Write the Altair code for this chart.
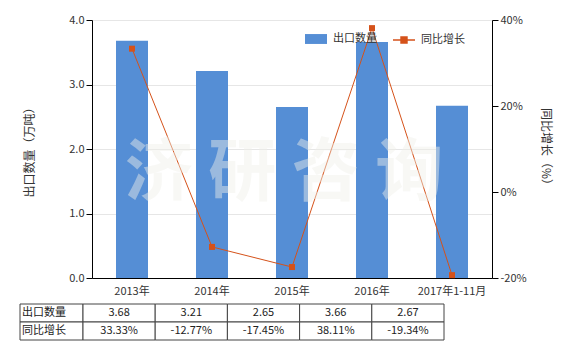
import altair as alt
import pandas as pd

years = ["2013年", "2014年", "2015年", "2016年", "2017年1-11月"]
qty = [3.68, 3.21, 2.65, 3.66, 2.67]
growth = [33.33, -12.77, -17.45, 38.11, -19.34]
qty_ticks = [0, 1, 2, 3, 4]
growth_ticks = [-20, 0, 20, 40]
row_names = ["出口数量", "同比增长"]
watermark = "济 研 咨 询"

FONT = "Noto Sans CJK SC"
BAR = "#558ED5"
LINE = "#D5521A"
TXT = "#333333"

df = pd.DataFrame({"year": years, "qty": qty, "growth": growth,
                   "s1": row_names[0], "s2": row_names[1]})

x = alt.X("year:N", sort=years, title=None,
          scale=alt.Scale(paddingInner=0.6, paddingOuter=0.3),
          axis=alt.Axis(labelAngle=0, ticks=False, domainColor="#000000",
                        labelPadding=7, labelFontSize=11, labelColor=TXT))

bars = alt.Chart(df).mark_bar().encode(
    x=x,
    y=alt.Y("qty:Q", title="出口数量（万吨）",
            scale=alt.Scale(domain=[0, 4], nice=False),
            axis=alt.Axis(values=qty_ticks, format=".1f", grid=True, gridColor="#e6e6e6",
                          tickSize=6, tickColor="#000000", domainColor="#000000",
                          labelPadding=2, titlePadding=32)),
    fill=alt.Fill("s1:N", scale=alt.Scale(domain=[row_names[0]], range=[BAR]),
                  legend=alt.Legend(title=None, orient="none", legendX=213, legendY=8,
                                    symbolType="M-1,-0.45L1,-0.45L1,0.45L-1,0.45Z",
                                    symbolSize=484, symbolStrokeWidth=0,
                                    labelFontSize=11, labelOffset=6, padding=0,
                                    labelColor=TXT)),
)

gaxis = alt.Axis(orient="right", values=growth_ticks, labelExpr="datum.value + '%'",
                 grid=False, tickSize=6, tickColor="#000000", domainColor="#000000",
                 labelPadding=2, titlePadding=12, titleAngle=90)
gscale = alt.Scale(domain=[-20, 40], nice=False)

line = alt.Chart(df).mark_line(strokeWidth=1).encode(
    x=x,
    y=alt.Y("growth:Q", title="同比增长（%）", scale=gscale, axis=gaxis),
    stroke=alt.Stroke("s2:N", scale=alt.Scale(domain=[row_names[1]], range=[LINE]),
                      legend=alt.Legend(title=None, orient="none", legendX=300, legendY=8,
                                        symbolType="M-1,0L1,0M-0.27,-0.27L0.27,-0.27L0.27,0.27L-0.27,0.27Z",
                                        symbolSize=484, symbolStrokeWidth=1.5,
                                        symbolFillColor=LINE,
                                        labelFontSize=11, labelOffset=5, padding=0,
                                        labelColor=TXT)),
)

pts = alt.Chart(df).mark_point(shape="square", filled=True, size=36, opacity=1, color=LINE).encode(
    x=x,
    y=alt.Y("growth:Q", title="同比增长（%）", scale=gscale, axis=gaxis),
)

wm = alt.Chart(pd.DataFrame({"t": [watermark]})).mark_text(
    fontSize=68, fontWeight="bold", color="#f0f0ea", opacity=0.45, font=FONT
).encode(text="t:N", x=alt.value(192), y=alt.value(155))

main = alt.layer(bars, alt.layer(line, pts), wm).resolve_scale(y="independent").properties(
    width=400, height=258)

# table
lab_df = pd.DataFrame({"c": ["label"] * 2, "r": row_names, "t": row_names})
val_rows = []
for yv, q, g in zip(years, qty, growth):
    val_rows.append({"c": yv, "r": row_names[0], "t": f"{q:.2f}"})
    val_rows.append({"c": yv, "r": row_names[1], "t": f"{g:.2f}%"})
val_df = pd.DataFrame(val_rows)

ty = alt.Y("r:N", sort=row_names, axis=None, title=None,
           scale=alt.Scale(paddingInner=0, paddingOuter=0))
lab_scale = alt.Scale(range=[-72, -9], paddingInner=0, paddingOuter=0)
val_scale = alt.Scale(range=[-9, 352], paddingInner=0, paddingOuter=0)

lab_base = alt.Chart(lab_df).encode(y=ty)
lab_layer = alt.layer(
    lab_base.mark_rect(fill="white", stroke="#444444", strokeWidth=1).encode(
        x=alt.X("c:N", axis=None, scale=lab_scale, title=None)),
    lab_base.mark_text(align="left", dx=2, fontSize=11, color="#222222").encode(
        x=alt.X("c:N", axis=None, scale=lab_scale, title=None, bandPosition=0), text="t:N"),
)

val_base = alt.Chart(val_df).encode(y=ty)
val_layer = alt.layer(
    val_base.mark_rect(fill="white", stroke="#444444", strokeWidth=1).encode(
        x=alt.X("c:N", sort=years, axis=None, scale=val_scale, title=None)),
    val_base.mark_text(fontSize=11, color="#222222").encode(
        x=alt.X("c:N", sort=years, axis=None, scale=val_scale, title=None), text="t:N"),
)

table = alt.layer(lab_layer, val_layer).resolve_scale(x="independent").properties(
    width=352, height=36)

chart = alt.vconcat(main, table, spacing=7).properties(
    padding={"left": 19, "top": 14, "right": 5, "bottom": 5}
).configure(font=FONT).configure_view(stroke=None).configure_axis(
    labelFontSize=11, labelColor=TXT, titleFontSize=12, titleFontWeight="normal",
    titleColor=TXT, labelFont=FONT, titleFont=FONT
).configure_legend(labelFont=FONT)

chart.save("out.html", embed_options={"renderer": "svg", "actions": False})
